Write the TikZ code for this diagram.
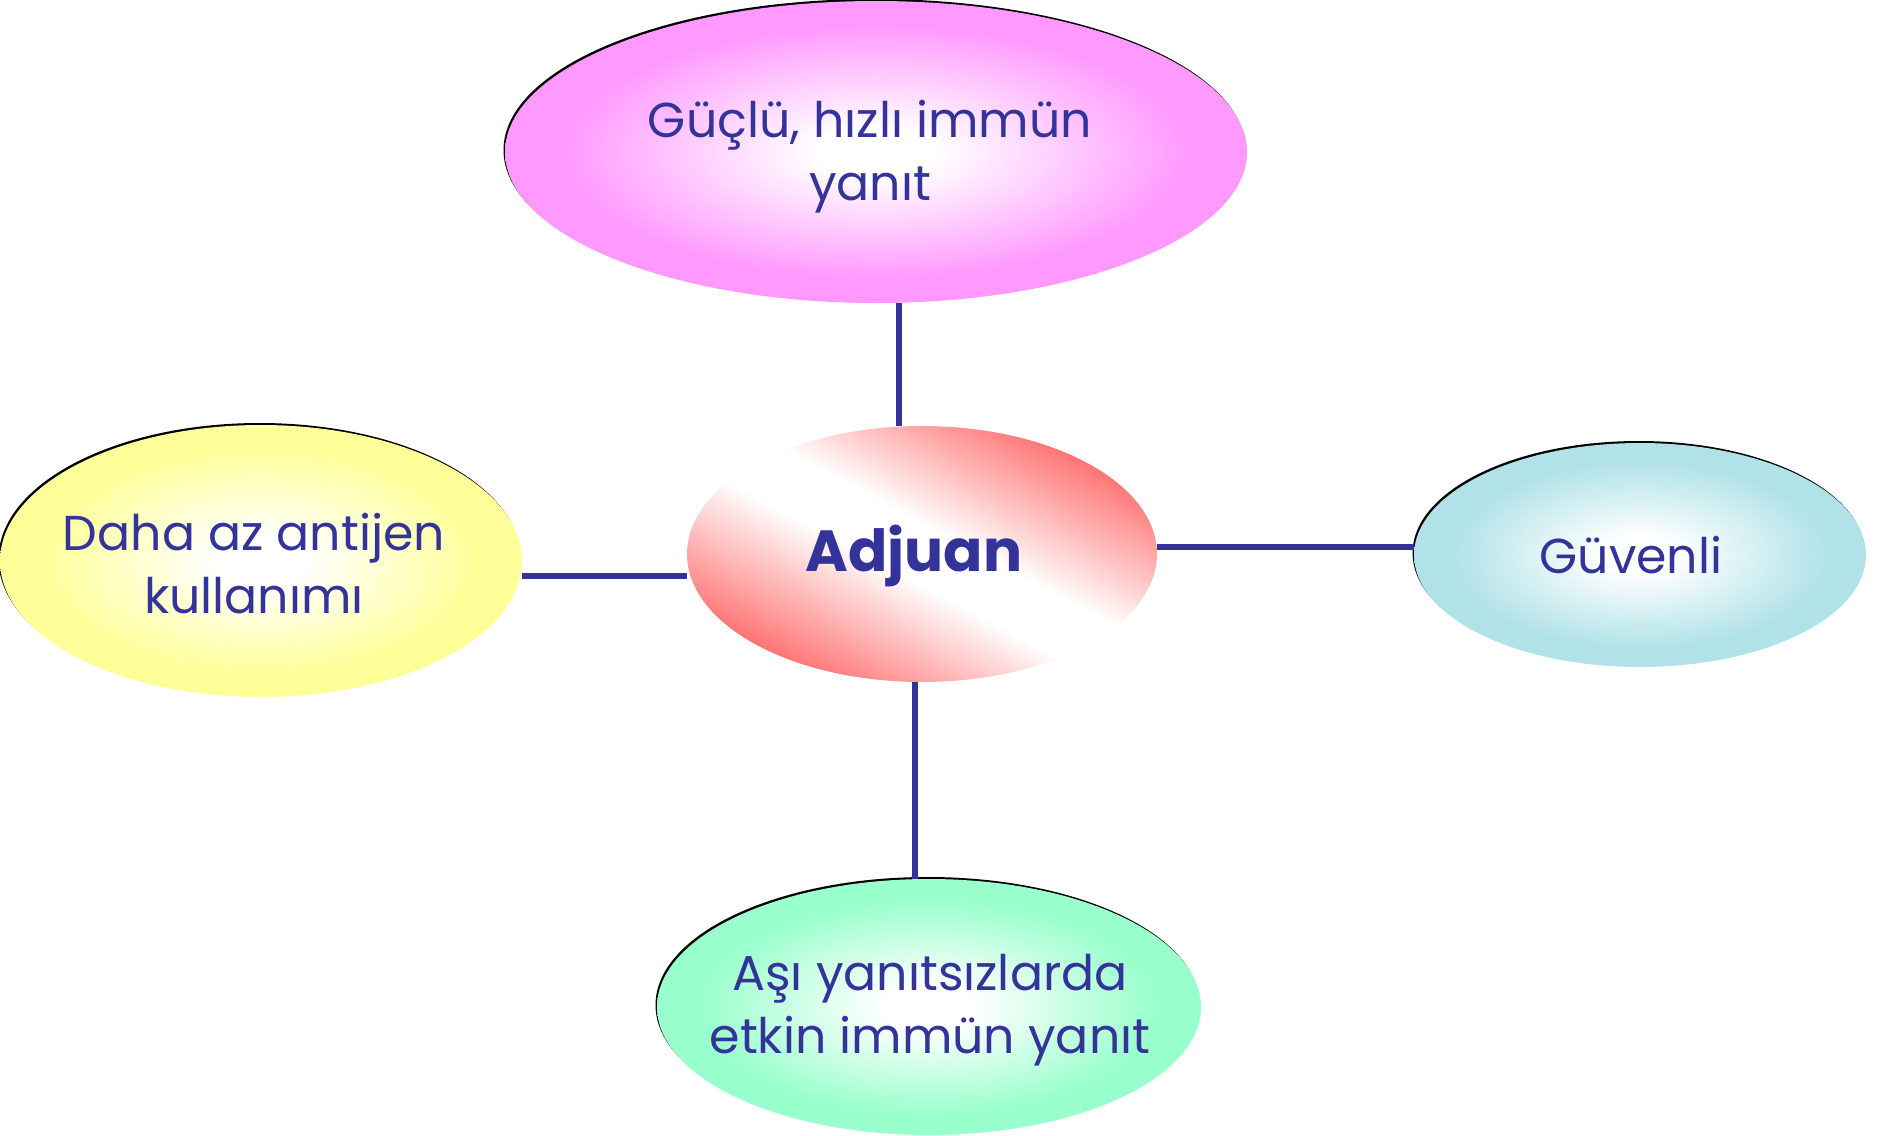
\documentclass[tikz,border=0pt]{standalone}
\usepackage{fontspec}
\setmainfont{Poppins}
\usetikzlibrary{shapes.geometric}
\definecolor{txtblue}{HTML}{333399}
\definecolor{cmag}{HTML}{FF99FF}
\definecolor{cyel}{HTML}{FFFF99}
\definecolor{ccya}{HTML}{B0E2E8}
\definecolor{cmint}{HTML}{99FFCC}
\definecolor{cred}{HTML}{FF6666}
\pgfdeclareradialshading{rmag}{\pgfpoint{0bp}{0bp}}{color(0bp)=(white); color(4bp)=(white); color(21bp)=(cmag); color(50bp)=(cmag)}
\pgfdeclareradialshading{ryel}{\pgfpoint{0bp}{0bp}}{color(0bp)=(white); color(4bp)=(white); color(21bp)=(cyel); color(50bp)=(cyel)}
\pgfdeclareradialshading{rcya}{\pgfpoint{0bp}{0bp}}{color(0bp)=(white); color(4bp)=(white); color(21bp)=(ccya); color(50bp)=(ccya)}
\pgfdeclareradialshading{rmint}{\pgfpoint{0bp}{0bp}}{color(0bp)=(white); color(4bp)=(white); color(21bp)=(cmint); color(50bp)=(cmint)}
\pgfdeclareverticalshading{adj}{100bp}{color(0bp)=(cred); color(24bp)=(cred); color(46bp)=(white); color(54bp)=(white); color(76bp)=(cred); color(100bp)=(cred)}
\tikzset{
  bubble/.style={ellipse, inner sep=0pt, draw=none,
    preaction={fill=black, transform canvas={xshift=-1.5pt, yshift=2pt}}},
  lbl/.style={text=txtblue, align=center, font=\fontsize{49}{63}\selectfont},
  conn/.style={draw=txtblue, line width=6pt}
}
\begin{document}
\begin{tikzpicture}[x=1pt, y=-1pt]
\useasboundingbox (0,0) rectangle (1878,1135);
% ellipses
\node[bubble, shade, shading=rmag, minimum width=742pt, minimum height=302pt] (top) at (876,152) {};
\node[bubble, shade, shading=ryel, minimum width=522pt, minimum height=272pt] (left) at (261,561) {};
\node[bubble, shade, shading=rcya, minimum width=452pt, minimum height=224pt] (right) at (1640,555) {};
\node[bubble, shade, shading=rmint, minimum width=544pt, minimum height=256pt] (bot) at (929,1007) {};
\node[ellipse, inner sep=0pt, minimum width=470pt, minimum height=256pt,
  shade, shading=adj, shading angle=-28] (ctr) at (922,554) {};
% texts
\node[lbl] (ttop) at (870,157) {Güçlü, hızlı immün\\yanıt};
\node[lbl] (tleft) at (254,564) {Daha az antijen\\kullanımı};
\node[lbl] (tright) at (1631,555) {Güvenli};
\node[lbl] (tbot) at (930,1010) {Aşı yanıtsızlarda\\etkin immün yanıt};
\node[text=txtblue, font=\fontsize{58}{70}\selectfont\bfseries] (tctr) at (914,556) {Adjuan};
% connectors
\draw[conn] (top.south -| 899,0) -- (ctr.north -| 899,0);
\draw[conn] (ctr.south -| 915,0) -- (bot.north -| 915,0);
\draw[conn] (left.east |- 0,576) -- (ctr.west |- 0,576);
\draw[conn] (ctr.east |- 0,547) -- (right.west |- 0,547);
\end{tikzpicture}
\end{document}
